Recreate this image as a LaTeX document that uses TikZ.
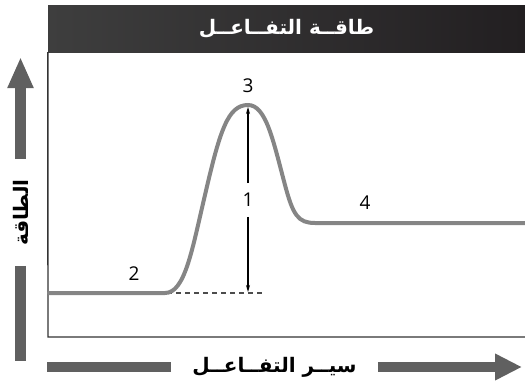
\documentclass[tikz,border=0pt]{standalone}
\usepackage{fontspec}
\setmainfont{Open Sans}
\newfontfamily\arabicfont[Script=Arabic]{DejaVu Sans}
\TeXXeTstate=1
\usetikzlibrary{arrows.meta,positioning,calc}
\definecolor{curvegray}{HTML}{858585}
\definecolor{axisgray}{HTML}{606060}
\definecolor{framegray}{HTML}{333333}
\definecolor{barleft}{HTML}{3E3E3E}
\definecolor{barright}{HTML}{221F21}
\tikzset{
  titlebar/.style={
    left color=barleft,
    right color=barright,
    minimum width=477pt,
    minimum height=47pt,
    inner sep=0pt,
    text=white,
    font=\arabicfont\bfseries\fontsize{20}{24}\selectfont
  },
  axislabel/.style={
    inner sep=0pt,
    font=\arabicfont\bfseries\fontsize{20}{24}\selectfont
  },
  numlabel/.style={
    inner sep=0pt,
    font=\fontsize{19}{22}\selectfont
  },
  axisarrow/.style={line width=10.5pt,draw=axisgray},
  energycurve/.style={line width=4pt,draw=curvegray,line cap=round},
  gapline/.style={-{Stealth[length=7pt,width=4pt]},line width=1.1pt,draw=black}
}

\begin{document}
\begin{tikzpicture}[x=1pt,y=-1pt]
  \useasboundingbox (0,0) rectangle (525,383);
  % title and frame
  \node[titlebar] (title) at (286.5,28.5) {\beginR طاقــة التفــاعــل\endR};
  \draw[line width=1.4pt,draw=framegray] (title.south west) -- (48,337) -- (525,337);
  % energy profile
  \coordinate (start) at (49,293);
  \coordinate (peak) at (248,105);
  \coordinate (base) at (248,293);
  \coordinate (finish) at (525,223);
  \draw[dashed,dash pattern=on 5pt off 4pt,line width=1.3pt,draw=black!70] (167,293) -- (265,293);
  \draw[energycurve] (start) -- (165,293)
    .. controls (185,293) and (192,250) .. (205,195)
    .. controls (220,130) and (228,105) .. (peak)
    .. controls (266,105) and (273,140) .. (285,185)
    .. controls (293,215) and (298,223) .. (315,223) -- (finish);
  \node[numlabel,inner ysep=10pt] (one) at (248,200) {1};
  \node[numlabel] (three) at (248,86) {3};
  \node[numlabel] (two) at (134,274) {2};
  \node[numlabel] (four) at (365,203) {4};
  \draw[gapline] (one) -- ([yshift=-2pt]peak);
  \draw[gapline] (one) -- ([yshift=1pt]base);
  % energy axis
  \node[axislabel,rotate=90,inner xsep=20pt] (ylbl) at (20.5,212.5) {\beginR الطاقة\endR};
  \coordinate (ytop) at (20.5,57);
  \coordinate (ybot) at (20.5,361);
  \draw[axisarrow,-{Triangle[length=31pt,width=24pt]}] (ylbl) -- (ytop);
  \draw[axisarrow] (ylbl) -- (ybot);
  % reaction path axis
  \node[axislabel,inner xsep=21pt] (xlbl) at (274.5,367) {\beginR سيــر التفــاعــل\endR};
  \coordinate (xleft) at (47,367);
  \coordinate (xright) at (522,367);
  \draw[axisarrow] (xlbl) -- (xleft);
  \draw[axisarrow,-{Triangle[length=27pt,width=25pt]}] (xlbl) -- (xright);
\end{tikzpicture}
\end{document}
